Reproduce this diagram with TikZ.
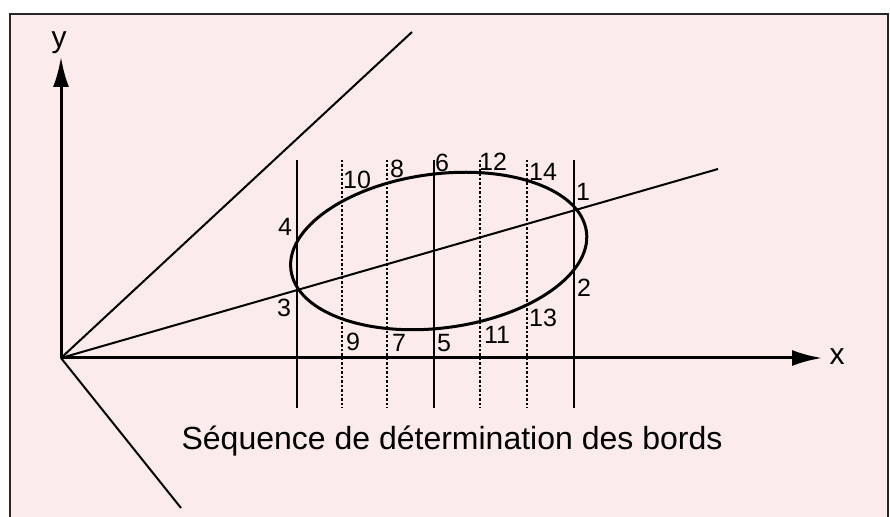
\documentclass[tikz,border=0pt]{standalone}
\usepackage{fontspec}
\setmainfont{Liberation Sans}
\usetikzlibrary{arrows.meta}
\definecolor{bgpink}{HTML}{FCEBEB}
\begin{document}
\begin{tikzpicture}[x=1pt,y=1pt,
  axis/.style={line width=3pt, -{Latex[length=30pt,width=16pt]}},
  ray/.style={line width=2pt},
  vsol/.style={line width=1.8pt},
  vdash/.style={line width=1.8pt, dash pattern=on 2.5pt off 2pt},
  curve/.style={line width=3pt},
  num/.style={font=\fontsize{25}{28}\selectfont, inner sep=0pt},
  lab/.style={font=\fontsize{30}{34}\selectfont, inner sep=0pt}]
\useasboundingbox (0,0) rectangle (890,516);
\fill[white] (0,0) rectangle (890,516);
\fill[bgpink] (10,-20) rectangle (888,502);
\draw[black!85, line width=2pt] (10,-20) -- (10,502) -- (888,502) -- (888,-20);
% coordinates
\coordinate (O) at (61,158);
\coordinate (Ytip) at (61,459);
\coordinate (Xtip) at (822,158);
\coordinate (U) at (412,484);
\coordinate (L) at (181,8);
\coordinate (M) at (718,347);
\foreach \n/\x in {a/297,b/342,c/387,d/434,e/480,f/527,g/574}{
  \coordinate (t\n) at (\x,356);
  \coordinate (b\n) at (\x,108);
}
% vertical lines
\foreach \n in {a,d,g} \draw[vsol] (t\n) -- (b\n);
\foreach \n in {b,c,e,f} \draw[vdash] (t\n) -- (b\n);
% rays
\draw[ray] (O) -- (U);
\draw[ray] (O) -- (L);
\draw[ray] (O) -- (M);
% ellipse
\draw[curve, rotate around={7.4:(438.7,265)}] (438.7,265) ellipse (149 and 77);
% axes
\draw[axis] (O) -- (Ytip);
\draw[axis] (O) -- (Xtip);
\node[lab] (ylab) at (59,473) {y};
\node[lab] (xlab) at (837,159) {x};
% labels
\node[num] (n1) at (583,324) {1};
\node[num] (n2) at (584,228) {2};
\node[num] (n3) at (284,208) {3};
\node[num] (n4) at (285,289) {4};
\node[num] (n5) at (444,173) {5};
\node[num] (n6) at (442,353) {6};
\node[num] (n7) at (399,173) {7};
\node[num] (n8) at (397,347) {8};
\node[num] (n9) at (353,174) {9};
\node[num] (n10) at (357,336) {10};
\node[num] (n11) at (497,181) {11};
\node[num] (n12) at (493,354) {12};
\node[num] (n13) at (543,198) {13};
\node[num] (n14) at (543,344) {14};
\node[font=\fontsize{32}{38}\selectfont, anchor=base, inner sep=0pt] (cap) at (452,66) {Séquence de détermination des bords};
\end{tikzpicture}
\end{document}
